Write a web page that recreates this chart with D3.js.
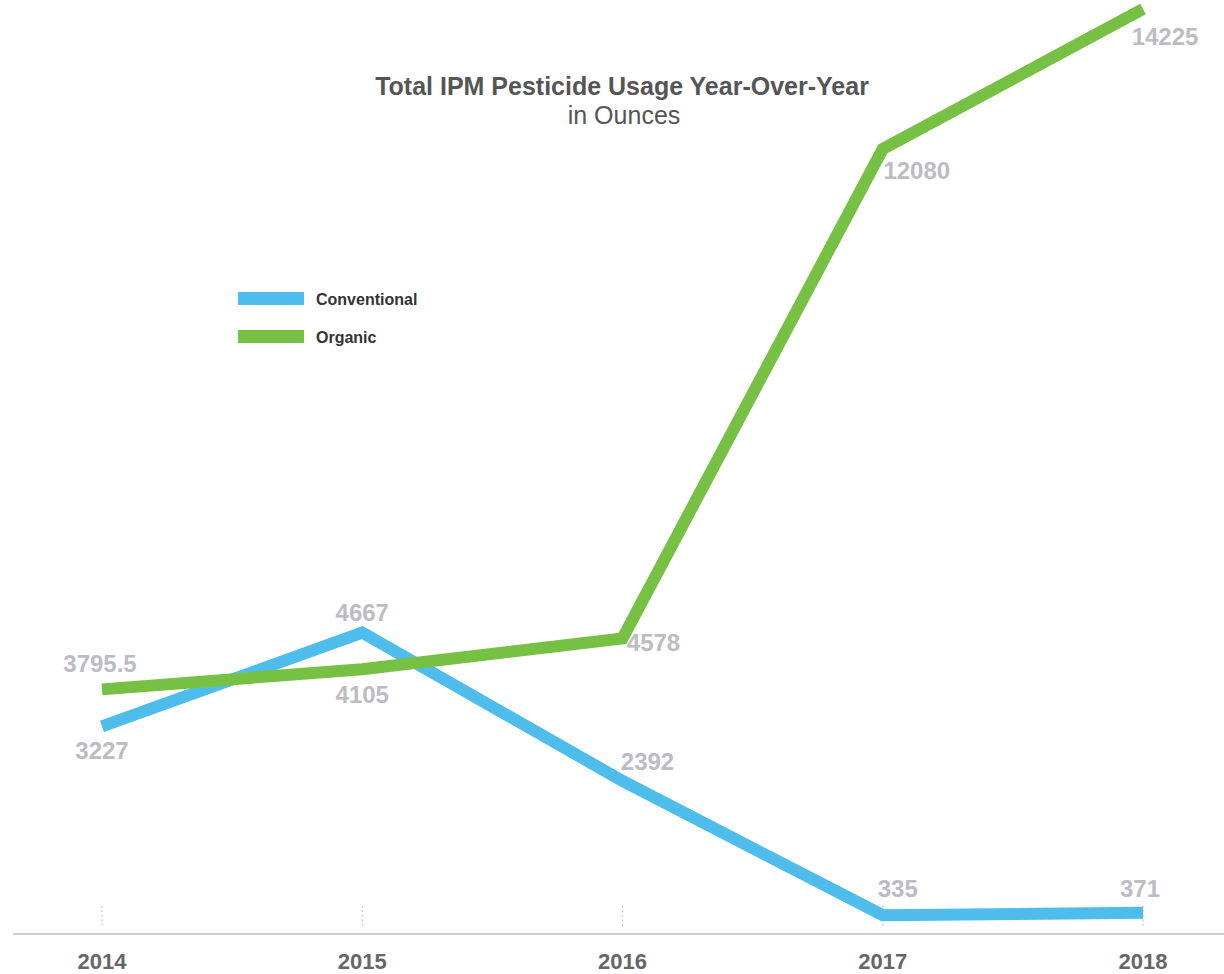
<!DOCTYPE html>
<html>
<head>
<meta charset="utf-8">
<script src="https://cdn.jsdelivr.net/npm/d3@7"></script>
<style>
  body { margin: 0; background: #fff; }
  svg { display: block; font-family: "Liberation Sans", Arial, sans-serif; }
</style>
</head>
<body>
<div id="chart"></div>
<script>
var years = ["2014", "2015", "2016", "2017", "2018"];
var conventional = [3227, 4667, 2392, 335, 371];
var organic = [3795.5, 4105, 4578, 12080, 14225];
var seriesNames = ["Conventional", "Organic"];
var seriesColors = ["#4fbdec", "#76c043"];

// label offsets (dx, dy) per point, layout only
var convOffsets = [[0, 33], [0, -12], [25, -11], [15, -18], [-3, -16]];
var orgOffsets = [[-2, -17], [0, 34], [31, 13], [34, 30], [22, 36]];

var width = 1224, height = 974;

var svg = d3.select("#chart").append("svg")
    .attr("width", width)
    .attr("height", height);

//
// Scales
//
var x = d3.scalePoint().domain(years).range([102, 1143]);
var y = d3.scaleLinear().domain([0, 14225]).range([937, 9]);

// axis line
svg.append("line")
    .attr("x1", 13).attr("x2", width)
    .attr("y1", 934).attr("y2", 934)
    .attr("stroke", "#cfcfcf")
    .attr("stroke-width", 2);

// dotted ticks
svg.selectAll(".tick-dot")
    .data(years)
    .enter().append("line")
    .attr("x1", function(d) { return x(d); })
    .attr("x2", function(d) { return x(d); })
    .attr("y1", 906).attr("y2", 928)
    .attr("stroke", "#bdbdbd")
    .attr("stroke-width", 1.2)
    .attr("stroke-dasharray", "1.5,3");

// year labels
svg.selectAll(".year")
    .data(years)
    .enter().append("text")
    .attr("x", function(d) { return x(d); })
    .attr("y", 969)
    .attr("text-anchor", "middle")
    .attr("font-size", 22)
    .attr("font-weight", "bold")
    .attr("fill", "#666")
    .text(function(d) { return d; });

// Title
svg.append("text")
    .attr("x", 622).attr("y", 95)
    .attr("text-anchor", "middle")
    .attr("font-size", 25)
    .attr("font-weight", "bold")
    .attr("fill", "#555")
    .text("Total IPM Pesticide Usage Year-Over-Year");
svg.append("text")
    .attr("x", 624).attr("y", 124)
    .attr("text-anchor", "middle")
    .attr("font-size", 25)
    .attr("fill", "#555")
    .text("in Ounces");

var line = d3.line()
    .x(function(d, i) { return x(years[i]); })
    .y(function(d) { return y(d); });

var allSeries = [conventional, organic];
var allOffsets = [convOffsets, orgOffsets];

allSeries.forEach(function(vals, s) {
    svg.append("path")
        .datum(vals)
        .attr("fill", "none")
        .attr("stroke", seriesColors[s])
        .attr("stroke-width", 12)
        .attr("stroke-linejoin", "miter")
        .attr("d", line);
});

allSeries.forEach(function(vals, s) {
    svg.selectAll(".lbl" + s)
        .data(vals)
        .enter().append("text")
        .attr("x", function(d, i) { return x(years[i]) + allOffsets[s][i][0]; })
        .attr("y", function(d, i) { return y(d) + allOffsets[s][i][1]; })
        .attr("text-anchor", "middle")
        .attr("font-size", 24)
        .attr("font-weight", "bold")
        .attr("fill", "#bcbcc2")
        .text(function(d) { return d; });
});

// Legend
seriesNames.forEach(function(name, i) {
    svg.append("rect")
        .attr("x", 238)
        .attr("y", 292 + i * 38)
        .attr("width", 66)
        .attr("height", 13)
        .attr("fill", seriesColors[i]);
    svg.append("text")
        .attr("x", 316)
        .attr("y", 305 + i * 38)
        .attr("font-size", 16)
        .attr("font-weight", "bold")
        .attr("fill", "#333")
        .text(name);
});
</script>
</body>
</html>
